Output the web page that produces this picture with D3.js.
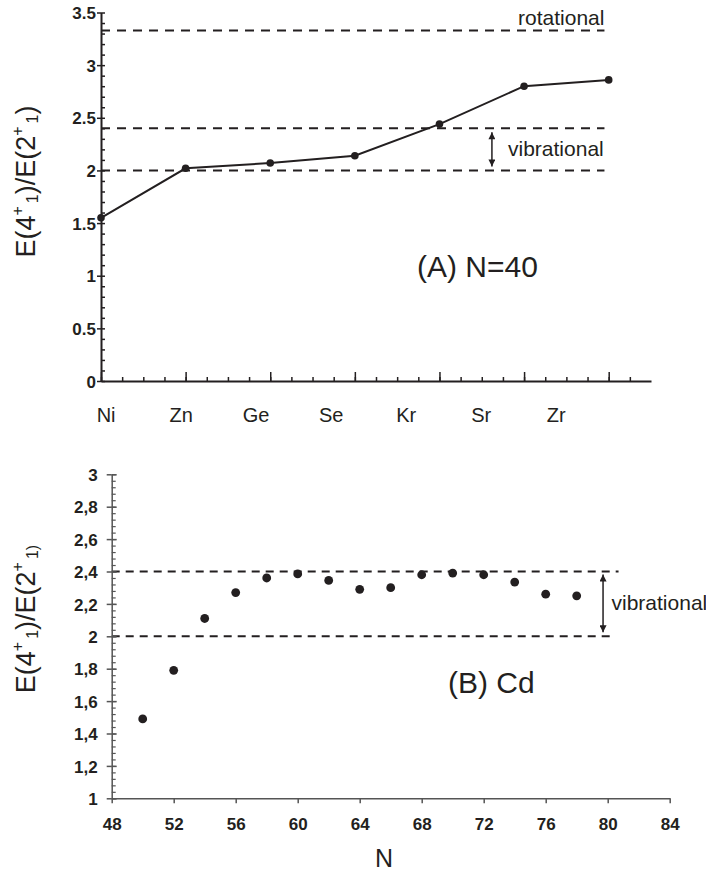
<!DOCTYPE html>
<html>
<head>
<meta charset="utf-8">
<script src="https://cdn.jsdelivr.net/npm/d3@7"></script>
<style>
  html, body { margin: 0; padding: 0; background: #fff; }
  svg { display: block; }
</style>
</head>
<body>
<svg id="chart" width="706" height="872"></svg>
<script>
// ---------- DATA ----------
// Panel A: N = 40 isotones
const elements = ["Ni", "Zn", "Ge", "Se", "Kr", "Sr", "Zr"];
const ratioA = [1.55, 2.02, 2.07, 2.14, 2.44, 2.80, 2.86];
const yTicksA = [0, 0.5, 1, 1.5, 2, 2.5, 3, 3.5];

// Panel B: Cd isotopes
const neutronN = [50, 52, 54, 56, 58, 60, 62, 64, 66, 68, 70, 72, 74, 76, 78];
const ratioB = [1.49, 1.79, 2.11, 2.27, 2.36, 2.385, 2.345, 2.29, 2.30, 2.38, 2.39, 2.38, 2.335, 2.26, 2.25];
const xTicksB = [48, 52, 56, 60, 64, 68, 72, 76, 80, 84];
const yTicksB = [1, 1.2, 1.4, 1.6, 1.8, 2, 2.2, 2.4, 2.6, 2.8, 3];

// Reference limits
const rotationalLimit = 3.33;
const vibrationalLow = 2.0;
const vibrationalHigh = 2.4;

// ---------- SETUP ----------
const FONT = "'Liberation Sans', Arial, Helvetica, sans-serif";
const INK = "#231f20";
const svg = d3.select("#chart");
svg.append("rect").attr("width", 706).attr("height", 872).attr("fill", "#fff");

const defs = svg.append("defs");
defs.append("marker")
  .attr("id", "arrowhead")
  .attr("viewBox", "0 0 10 10")
  .attr("refX", 10).attr("refY", 5)
  .attr("markerWidth", 9).attr("markerHeight", 7)
  .attr("markerUnits", "userSpaceOnUse")
  .attr("orient", "auto-start-reverse")
  .append("path")
  .attr("d", "M0,0 L10,5 L0,10 z")
  .attr("fill", INK);

function yTitle(g, x, y, closingSmall) {
  const t = g.append("text")
    .attr("transform", `translate(${x},${y}) rotate(-90)`)
    .attr("text-anchor", "middle")
    .attr("font-family", FONT)
    .attr("font-size", 27)
    .attr("fill", INK);
  t.append("tspan").text("E(4");
  t.append("tspan").attr("font-size", 16).attr("dy", -12).text("+");
  t.append("tspan").attr("font-size", 16).attr("dx", 3).attr("dy", 15).text("1");
  t.append("tspan").attr("dy", -3).text(")/E(2");
  t.append("tspan").attr("font-size", 16).attr("dy", -12).text("+");
  if (closingSmall) {
    t.append("tspan").attr("font-size", 16).attr("dx", 3).attr("dy", 15).text("1)");
  } else {
    t.append("tspan").attr("font-size", 16).attr("dx", 3).attr("dy", 15).text("1");
    t.append("tspan").attr("dy", -3).text(")");
  }
}

function styleAxis(g) {
  g.selectAll("path.domain").attr("stroke", INK).attr("stroke-width", 2);
  g.selectAll(".tick line").attr("stroke", INK).attr("stroke-width", 1.5);
}

// ---------- PANEL A ----------
const xA = d3.scaleLinear().domain([0, 6.5]).range([101, 651]);
const yA = d3.scaleLinear().domain([0, 3.5]).range([381, 12.5]);
const labelA = d3.scalePoint().domain(elements).range([xA(0.06), xA(5.38)]);

const gA = svg.append("g");

// dashed reference lines
const dashA = [rotationalLimit, vibrationalHigh, vibrationalLow];
gA.selectAll("line.ref").data(dashA).join("line")
  .attr("class", "ref")
  .attr("x1", xA(0)).attr("x2", xA(5.95))
  .attr("y1", d => yA(d)).attr("y2", d => yA(d))
  .attr("stroke", INK).attr("stroke-width", 2)
  .attr("stroke-dasharray", "9,7");

// y axis minor ticks (inside)
const minorYA = d3.range(0, 36).map(i => +(i * 0.1).toFixed(1));
gA.append("g")
  .attr("transform", `translate(${xA(0)},0)`)
  .call(d3.axisRight(yA).tickValues(minorYA).tickSize(4).tickFormat("").tickSizeOuter(0))
  .call(g => g.select(".domain").remove())
  .call(styleAxis);

// y axis majors with labels
gA.append("g")
  .attr("transform", `translate(${xA(0)},0)`)
  .call(d3.axisLeft(yA).tickValues(yTicksA).tickSize(4).tickPadding(1).tickSizeOuter(0)
    .tickFormat(d3.format("~g")))
  .call(styleAxis)
  .call(g => g.selectAll(".tick text")
    .attr("font-family", FONT).attr("font-size", 17).attr("font-weight", "bold")
    .attr("fill", INK).attr("dy", "0.36em"));

// x axis: major and minor ticks upward
const majorXA = d3.range(0, 7);
const minorXA = d3.range(0, 26).map(i => i * 0.25);
gA.append("g")
  .attr("transform", `translate(0,${yA(0)})`)
  .call(d3.axisTop(xA).tickValues(minorXA).tickSize(4).tickFormat("").tickSizeOuter(0))
  .call(styleAxis);
gA.append("g")
  .attr("transform", `translate(0,${yA(0)})`)
  .call(d3.axisTop(xA).tickValues(majorXA).tickSize(9).tickFormat("").tickSizeOuter(0))
  .call(g => g.select(".domain").remove())
  .call(styleAxis);

// category labels
gA.selectAll("text.cat").data(elements).join("text")
  .attr("class", "cat")
  .attr("x", d => labelA(d))
  .attr("y", 421.5)
  .attr("text-anchor", "middle")
  .attr("font-family", FONT).attr("font-size", 20)
  .attr("fill", INK)
  .text(d => d);

// data line and points
const lineA = d3.line().x((d, i) => xA(i)).y(d => yA(d));
gA.append("path").datum(ratioA)
  .attr("d", lineA)
  .attr("fill", "none").attr("stroke", INK).attr("stroke-width", 2);
gA.selectAll("circle").data(ratioA).join("circle")
  .attr("cx", (d, i) => xA(i)).attr("cy", d => yA(d))
  .attr("r", 3.8).attr("fill", INK);

// annotations
gA.append("text")
  .attr("x", xA(5.95)).attr("y", 25)
  .attr("text-anchor", "end")
  .attr("font-family", FONT).attr("font-size", 21).attr("fill", INK)
  .text("rotational");
gA.append("line")
  .attr("x1", xA(4.62)).attr("x2", xA(4.62))
  .attr("y1", yA(vibrationalHigh) + 4).attr("y2", yA(vibrationalLow) - 4)
  .attr("stroke", INK).attr("stroke-width", 1.5)
  .attr("marker-start", "url(#arrowhead)").attr("marker-end", "url(#arrowhead)");
gA.append("text")
  .attr("x", 508).attr("y", 156)
  .attr("font-family", FONT).attr("font-size", 21).attr("fill", INK)
  .text("vibrational");
gA.append("text")
  .attr("x", 417).attr("y", 277)
  .attr("font-family", FONT).attr("font-size", 30).attr("fill", INK)
  .text("(A) N=40");

yTitle(gA, 35, 181.5, false);

// ---------- PANEL B ----------
const xB = d3.scaleLinear().domain([48, 84]).range([111.7, 669.7]);
const yB = d3.scaleLinear().domain([1, 3]).range([798.3, 474.3]);
const commaFmt = d3.formatLocale({ decimal: ",", thousands: ".", grouping: [3], currency: ["", ""] }).format("~g");

const gB = svg.append("g");

// dashed reference lines
gB.selectAll("line.ref").data([vibrationalHigh, vibrationalLow]).join("line")
  .attr("class", "ref")
  .attr("x1", xB(48)).attr("x2", (d, i) => xB(i === 0 ? 80.7 : 80.5))
  .attr("y1", d => yB(d)).attr("y2", d => yB(d))
  .attr("stroke", INK).attr("stroke-width", 2)
  .attr("stroke-dasharray", "8,6");

// y minor ticks inside
const minorYB = d3.range(0, 51).map(i => +(1 + i * 0.04).toFixed(2));
gB.append("g")
  .attr("transform", `translate(${xB(48)},0)`)
  .call(d3.axisRight(yB).tickValues(minorYB).tickSize(4).tickFormat("").tickSizeOuter(0))
  .call(g => g.select(".domain").remove())
  .call(g => g.selectAll(".tick line").attr("stroke", "#555").attr("stroke-width", 1.2));
// y majors inside part
gB.append("g")
  .attr("transform", `translate(${xB(48)},0)`)
  .call(d3.axisRight(yB).tickValues(yTicksB).tickSize(5).tickFormat("").tickSizeOuter(0))
  .call(g => g.select(".domain").remove())
  .call(g => g.selectAll(".tick line").attr("stroke", "#555").attr("stroke-width", 1.5));
// y majors with labels
gB.append("g")
  .attr("transform", `translate(${xB(48)},0)`)
  .call(d3.axisLeft(yB).tickValues(yTicksB).tickSize(5).tickPadding(9).tickSizeOuter(0)
    .tickFormat(commaFmt))
  .call(g => g.select(".domain").attr("stroke", "#555").attr("stroke-width", 1.5))
  .call(g => g.selectAll(".tick line").attr("stroke", "#555").attr("stroke-width", 1.5))
  .call(g => g.selectAll(".tick text")
    .attr("font-family", FONT).attr("font-size", 17).attr("font-weight", "bold")
    .attr("fill", INK).attr("dy", "0.36em"));

// x axis
gB.append("g")
  .attr("transform", `translate(0,${yB(1)})`)
  .call(d3.axisBottom(xB).tickValues(xTicksB).tickSize(5).tickPadding(15).tickSizeOuter(0)
    .tickFormat(d3.format("d")))
  .call(g => g.select(".domain").attr("stroke", "#555").attr("stroke-width", 1.5))
  .call(g => g.selectAll(".tick line").attr("stroke", "#555").attr("stroke-width", 1.5))
  .call(g => g.selectAll(".tick text")
    .attr("font-family", FONT).attr("font-size", 17).attr("font-weight", "bold")
    .attr("fill", INK));

// points
gB.selectAll("circle").data(ratioB).join("circle")
  .attr("cx", (d, i) => xB(neutronN[i])).attr("cy", d => yB(d))
  .attr("r", 4.4).attr("fill", INK);

// annotations
gB.append("line")
  .attr("x1", xB(79.7)).attr("x2", xB(79.7))
  .attr("y1", yB(vibrationalHigh) + 3).attr("y2", yB(vibrationalLow) - 4)
  .attr("stroke", INK).attr("stroke-width", 1.5)
  .attr("marker-start", "url(#arrowhead)").attr("marker-end", "url(#arrowhead)");
gB.append("text")
  .attr("x", 611.5).attr("y", 609.5)
  .attr("font-family", FONT).attr("font-size", 21).attr("fill", INK)
  .text("vibrational");
gB.append("text")
  .attr("x", 448).attr("y", 693)
  .attr("font-family", FONT).attr("font-size", 30).attr("fill", INK)
  .text("(B) Cd");
gB.append("text")
  .attr("x", 384).attr("y", 867)
  .attr("text-anchor", "middle")
  .attr("font-family", FONT).attr("font-size", 25).attr("fill", INK)
  .text("N");

yTitle(gB, 35, 619, true);
</script>
</body>
</html>
